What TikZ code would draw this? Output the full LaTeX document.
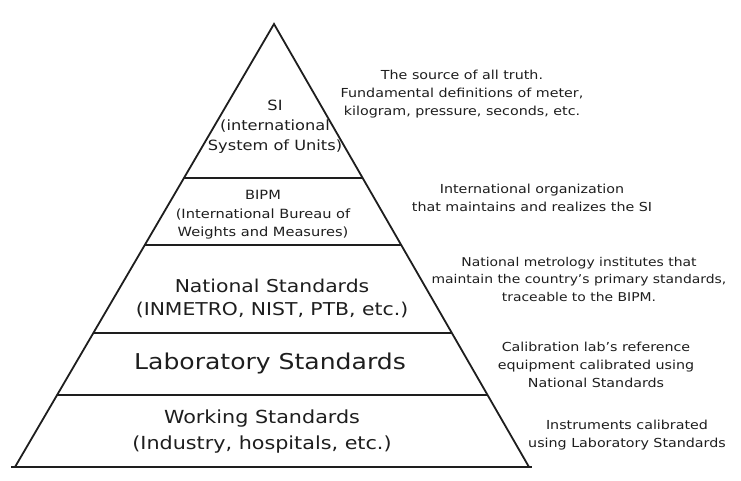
\documentclass[tikz,border=0pt]{standalone}
\usepackage{fontspec}
\setmainfont[FakeStretch=1.15]{DejaVu Sans}
\usetikzlibrary{calc}
\definecolor{ink}{HTML}{1E1E1E}
\begin{document}
\begin{tikzpicture}[x=1pt,y=-1pt,
  edge/.style={line width=1.8pt,line cap=round,draw=ink},
  tier/.style={line width=2.2pt,draw=ink},
  lbl/.style={align=center,text=ink,inner sep=0pt},
  note/.style={lbl,font=\fontsize{12.4}{18}\selectfont},
  notew/.style={lbl,font=\fontsize{12.1}{17.5}\selectfont},
  small/.style={lbl,font=\fontsize{12.7}{18.5}\selectfont},
  mid/.style={lbl,font=\fontsize{14.1}{20}\selectfont},
  big/.style={lbl,font=\fontsize{17.7}{23.5}\selectfont},
  bigw/.style={lbl,font=\fontsize{18}{26}\selectfont},
  huge/.style={lbl,font=\fontsize{21.8}{28}\selectfont}]
\useasboundingbox[fill=white] (0,0) rectangle (741,481);
\coordinate (apex) at (274,24);
\coordinate (bl) at (15,467);
\coordinate (br) at (529,467);
\coordinate (bl2) at (11,467);
\coordinate (br2) at (532,467);
% pyramid
\draw[edge] (bl) -- (apex) -- (br);
\draw[tier] (bl2) -- (br2);
\foreach \t/\n in {0.3476/a,0.4989/b,0.6975/c,0.8375/d}{
  \coordinate (L\n) at ($(apex)!\t!(bl)$);
  \coordinate (R\n) at ($(apex)!\t!(br)$);
  \draw[tier] (L\n) -- (R\n);
}
% tier labels
\node[mid] (si) at (275,127) {SI\\(international\\System of Units)};
\node[small] (bipm) at (263,215) {BIPM\\(International Bureau of\\Weights and Measures)};
\node[big] (nat) at (272,298.5) {National Standards\\(INMETRO, NIST, PTB, etc.)};
\node[huge] (lab) at (270,363) {Laboratory Standards};
\node[bigw] (work) at (262,432) {Working Standards\\(Industry, hospitals, etc.)};
% notes
\node[note] (n1) at (462,94) {The source of all truth.\\Fundamental definitions of meter,\\kilogram, pressure, seconds, etc.};
\node[note] (n2) at (532,197.5) {International organization\\that maintains and realizes the SI};
\node[notew] (n3) at (579,279) {National metrology institutes that\\maintain the country's primary standards,\\traceable to the BIPM.};
\node[note] (n4) at (596,365) {Calibration lab's reference\\equipment calibrated using\\National Standards};
\node[note] (n5) at (627,435) {Instruments calibrated\\using Laboratory Standards};
\end{tikzpicture}
\end{document}
